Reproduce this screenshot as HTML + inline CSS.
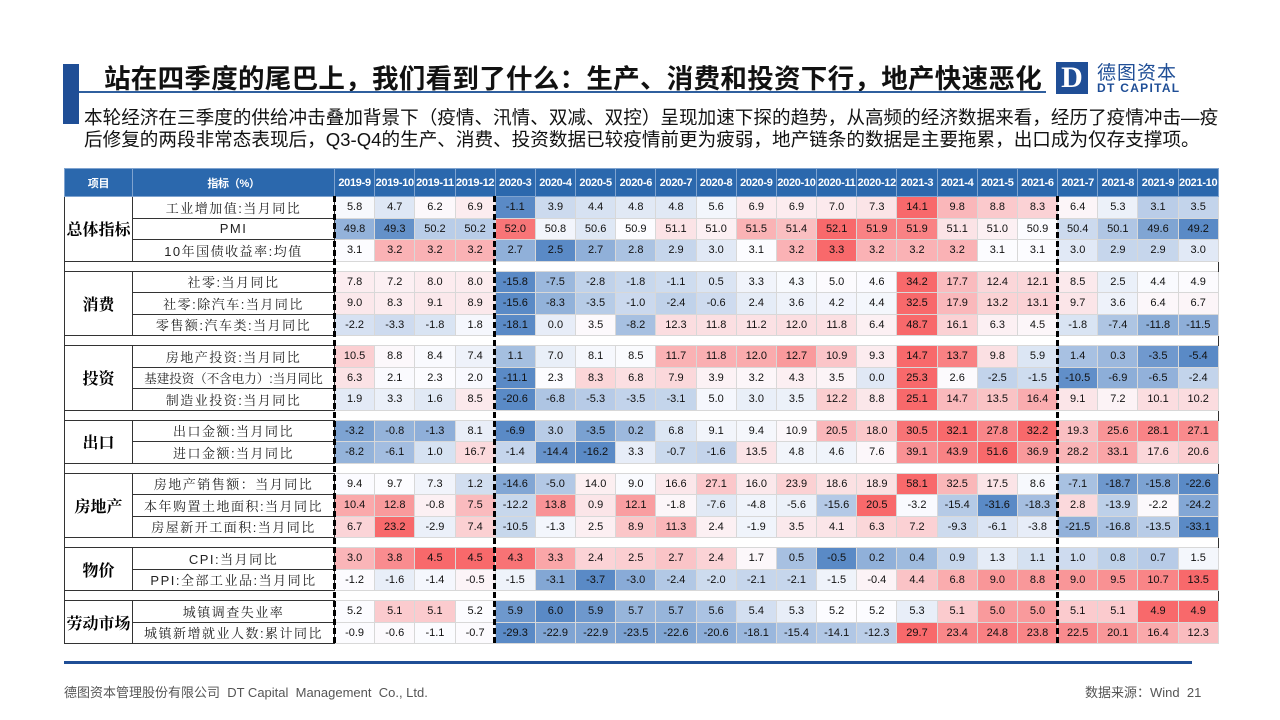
<!DOCTYPE html>
<html><head><meta charset="utf-8">
<style>
*{margin:0;padding:0;box-sizing:border-box}
body{width:1280px;height:720px;background:#fff;position:relative;overflow:hidden;font-family:"Liberation Sans","Noto Sans CJK SC",sans-serif}
.bar{position:absolute;left:63px;top:64px;width:16px;height:60px;background:#1f4e96}
.title{position:absolute;left:104px;top:57px;font-size:26.5px;font-weight:bold;color:#111;white-space:nowrap;letter-spacing:0.3px}
.tline{position:absolute;left:79px;top:91px;width:967px;height:2px;background:#2f5f9e}
.sub{position:absolute;left:84px;font-size:18.6px;color:#111;white-space:nowrap}
.logoD{position:absolute;left:1056px;top:62px;width:32px;height:32px;background:#1f4e96;color:#fff;font:bold 30px "Liberation Serif",serif;text-align:center;line-height:32px}
.logoC{position:absolute;left:1097px;top:58px;font-size:19px;color:#1f4e96;letter-spacing:1px;white-space:nowrap}
.logoE{position:absolute;left:1097px;top:82px;font-size:12px;font-weight:bold;color:#1f4e96;letter-spacing:1.3px;white-space:nowrap;line-height:13px}
table{position:absolute;left:64px;top:168px;width:1154px;border-collapse:collapse;table-layout:fixed}
td,th{padding:0;text-align:center;overflow:hidden;white-space:nowrap}
th{background:#2b68ad;color:#fff;font-size:11px;letter-spacing:-0.3px;font-weight:bold;height:28px;border:1px solid #7fa3cf}
td.g{font:bold 16px "Liberation Serif","Noto Serif CJK SC",serif;border:1px solid #333;letter-spacing:0}
td.i{font:13px "Liberation Sans","Noto Serif CJK SC",serif;border:1px solid #333;letter-spacing:1.5px;color:#222}
td.d{font-size:11px;color:#111;border:1px solid #d8d8d8}
tr.r td{height:21.5px}
tr.gap td{height:10px;border:none}
tr.gap td.f{border-left:1px solid #333}
.dash{position:absolute;top:196px;height:447px;border-left:3px dashed #000}
.fline{position:absolute;left:64px;top:661px;width:1128px;height:3px;background:#1f4e96}
.foot{position:absolute;top:682px;font-size:13px;color:#555;white-space:nowrap}
</style></head><body>
<div class="bar"></div>
<div class="title">站在四季度的尾巴上，我们看到了什么：生产、消费和投资下行，地产快速恶化</div>
<div class="tline"></div>
<div class="sub" style="top:103px">本轮经济在三季度的供给冲击叠加背景下（疫情、汛情、双减、双控）呈现加速下探的趋势，从高频的经济数据来看，经历了疫情冲击—疫</div>
<div class="sub" style="top:125px">后修复的两段非常态表现后，Q3-Q4的生产、消费、投资数据已较疫情前更为疲弱，地产链条的数据是主要拖累，出口成为仅存支撑项。</div>
<div class="logoD">D</div>
<div class="logoC">德图资本</div>
<div class="logoE">DT CAPITAL</div>

<table id="t">
<colgroup><col style="width:68px"><col style="width:202px">
<col span="22" style="width:40.18px"></colgroup>
<tr><th>项目</th><th>指标（%）</th><th>2019-9</th><th>2019-10</th><th>2019-11</th><th>2019-12</th><th>2020-3</th><th>2020-4</th><th>2020-5</th><th>2020-6</th><th>2020-7</th><th>2020-8</th><th>2020-9</th><th>2020-10</th><th>2020-11</th><th>2020-12</th><th>2021-3</th><th>2021-4</th><th>2021-5</th><th>2021-6</th><th>2021-7</th><th>2021-8</th><th>2021-9</th><th>2021-10</th></tr>
</table>

<div class="dash" style="left:333px"></div>
<div class="dash" style="left:493px"></div>
<div class="dash" style="left:1056px"></div>

<div class="fline"></div>
<div class="foot" style="left:64px">德图资本管理股份有限公司&nbsp; DT Capital&nbsp; Management&nbsp; Co., Ltd.</div>
<div class="foot" style="left:1085px">数据来源：Wind&nbsp; 21</div>

<script>
var groups=[
["总体指标",[
["工业增加值:当月同比","5.8 4.7 6.2 6.9 -1.1 3.9 4.4 4.8 4.8 5.6 6.9 6.9 7.0 7.3 14.1 9.8 8.8 8.3 6.4 5.3 3.1 3.5"],
["PMI","49.8 49.3 50.2 50.2 52.0 50.8 50.6 50.9 51.1 51.0 51.5 51.4 52.1 51.9 51.9 51.1 51.0 50.9 50.4 50.1 49.6 49.2"],
["10年国债收益率:均值","3.1 3.2 3.2 3.2 2.7 2.5 2.7 2.8 2.9 3.0 3.1 3.2 3.3 3.2 3.2 3.2 3.1 3.1 3.0 2.9 2.9 3.0"]]],
["消费",[
["社零:当月同比","7.8 7.2 8.0 8.0 -15.8 -7.5 -2.8 -1.8 -1.1 0.5 3.3 4.3 5.0 4.6 34.2 17.7 12.4 12.1 8.5 2.5 4.4 4.9"],
["社零:除汽车:当月同比","9.0 8.3 9.1 8.9 -15.6 -8.3 -3.5 -1.0 -2.4 -0.6 2.4 3.6 4.2 4.4 32.5 17.9 13.2 13.1 9.7 3.6 6.4 6.7"],
["零售额:汽车类:当月同比","-2.2 -3.3 -1.8 1.8 -18.1 0.0 3.5 -8.2 12.3 11.8 11.2 12.0 11.8 6.4 48.7 16.1 6.3 4.5 -1.8 -7.4 -11.8 -11.5"]]],
["投资",[
["房地产投资:当月同比","10.5 8.8 8.4 7.4 1.1 7.0 8.1 8.5 11.7 11.8 12.0 12.7 10.9 9.3 14.7 13.7 9.8 5.9 1.4 0.3 -3.5 -5.4"],
["基建投资（不含电力）:当月同比","6.3 2.1 2.3 2.0 -11.1 2.3 8.3 6.8 7.9 3.9 3.2 4.3 3.5 0.0 25.3 2.6 -2.5 -1.5 -10.5 -6.9 -6.5 -2.4",0,1],
["制造业投资:当月同比","1.9 3.3 1.6 8.5 -20.6 -6.8 -5.3 -3.5 -3.1 5.0 3.0 3.5 12.2 8.8 25.1 14.7 13.5 16.4 9.1 7.2 10.1 10.2"]]],
["出口",[
["出口金额:当月同比","-3.2 -0.8 -1.3 8.1 -6.9 3.0 -3.5 0.2 6.8 9.1 9.4 10.9 20.5 18.0 30.5 32.1 27.8 32.2 19.3 25.6 28.1 27.1"],
["进口金额:当月同比","-8.2 -6.1 1.0 16.7 -1.4 -14.4 -16.2 3.3 -0.7 -1.6 13.5 4.8 4.6 7.6 39.1 43.9 51.6 36.9 28.2 33.1 17.6 20.6"]]],
["房地产",[
["房地产销售额：当月同比","9.4 9.7 7.3 1.2 -14.6 -5.0 14.0 9.0 16.6 27.1 16.0 23.9 18.6 18.9 58.1 32.5 17.5 8.6 -7.1 -18.7 -15.8 -22.6"],
["本年购置土地面积:当月同比","10.4 12.8 -0.8 7.5 -12.2 13.8 0.9 12.1 -1.8 -7.6 -4.8 -5.6 -15.6 20.5 -3.2 -15.4 -31.6 -18.3 2.8 -13.9 -2.2 -24.2"],
["房屋新开工面积:当月同比","6.7 23.2 -2.9 7.4 -10.5 -1.3 2.5 8.9 11.3 2.4 -1.9 3.5 4.1 6.3 7.2 -9.3 -6.1 -3.8 -21.5 -16.8 -13.5 -33.1"]]],
["物价",[
["CPI:当月同比","3.0 3.8 4.5 4.5 4.3 3.3 2.4 2.5 2.7 2.4 1.7 0.5 -0.5 0.2 0.4 0.9 1.3 1.1 1.0 0.8 0.7 1.5"],
["PPI:全部工业品:当月同比","-1.2 -1.6 -1.4 -0.5 -1.5 -3.1 -3.7 -3.0 -2.4 -2.0 -2.1 -2.1 -1.5 -0.4 4.4 6.8 9.0 8.8 9.0 9.5 10.7 13.5"]]],
["劳动市场",[
["城镇调查失业率","5.2 5.1 5.1 5.2 5.9 6.0 5.9 5.7 5.7 5.6 5.4 5.3 5.2 5.2 5.3 5.1 5.0 5.0 5.1 5.1 4.9 4.9",1],
["城镇新增就业人数:累计同比","-0.9 -0.6 -1.1 -0.7 -29.3 -22.9 -22.9 -23.5 -22.6 -20.6 -18.1 -15.4 -14.1 -12.3 29.7 23.4 24.8 23.8 22.5 20.1 16.4 12.3"]]]
];
var R=[248,105,107],W=[252,252,255],B=[90,138,198];
function mix(a,b,t){return 'rgb('+a.map(function(v,i){return Math.round(v+(b[i]-v)*t)}).join(',')+')'}
var h='';
groups.forEach(function(g,gi){
 if(gi>0){h+='<tr class="gap"><td class="f"></td><td></td><td colspan="22" style="border-right:1px solid #333"></td></tr>';}
 g[1].forEach(function(r,ri){
  var v=r[1].split(' ').map(Number),s=v.slice().sort(function(a,b){return a-b});
  var mn=s[0],mx=s[s.length-1],md=(s[10]+s[11])/2;
  h+='<tr class="r">';
  if(ri==0)h+='<td class="g" rowspan="'+g[1].length+'">'+g[0]+'</td>';
  h+='<td class="i"'+(r[3]?' style="letter-spacing:0;font-size:12.5px"':'')+'>'+r[0]+'</td>';
  r[1].split(' ').forEach(function(t,k){
   var x=v[k],c;
   if(r[2]){x=-x;var m2=-md,lo=-mx,hi=-mn;c=x>=m2?mix(W,R,hi==m2?0:(x-m2)/(hi-m2)):mix(W,B,lo==m2?0:(m2-x)/(m2-lo));}
   else c=x>=md?mix(W,R,mx==md?0:(x-md)/(mx-md)):mix(W,B,mn==md?0:(md-x)/(md-mn));
   h+='<td class="d" style="background:'+c+'">'+t+'</td>';
  });
  h+='</tr>';
 });
});
document.getElementById('t').insertAdjacentHTML('beforeend',h);
</script>
</body></html>
